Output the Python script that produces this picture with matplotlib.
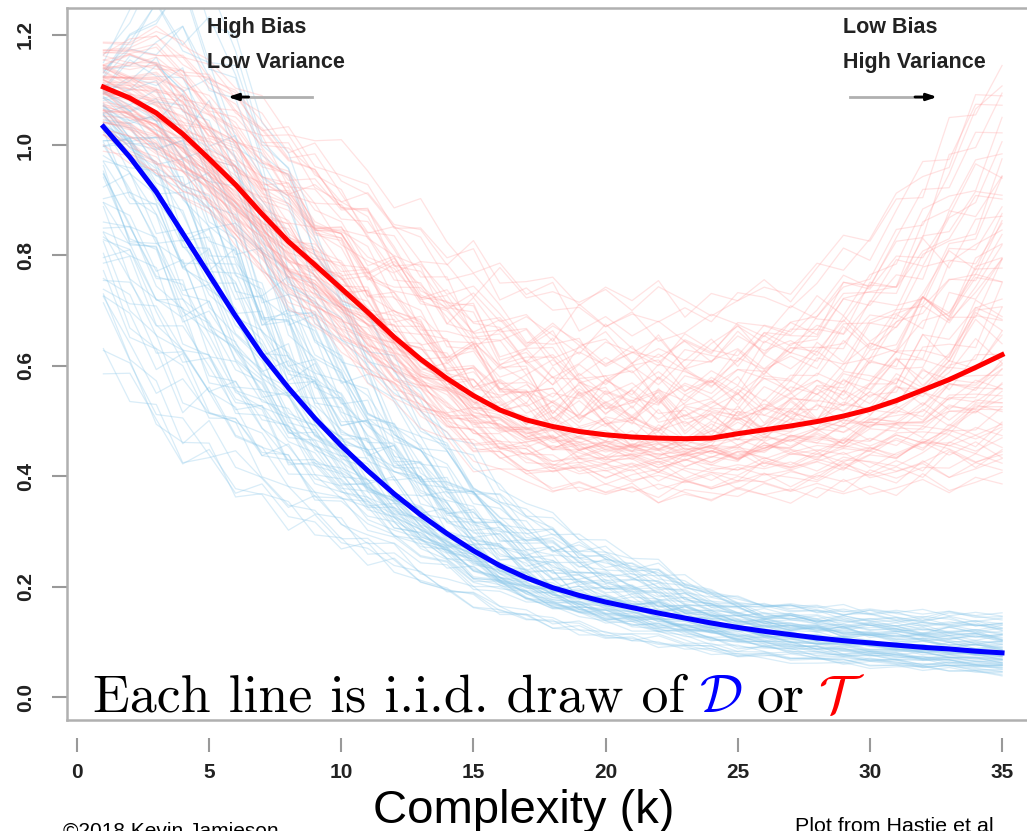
import numpy as np
import matplotlib
matplotlib.use("Agg")
import matplotlib.pyplot as plt

# complexity values (k)
k = list(range(1, 36))

# average curves
blue_mean = [1.033, 0.978, 0.915, 0.840, 0.765, 0.690, 0.620, 0.560, 0.505, 0.455,
             0.410, 0.368, 0.330, 0.296, 0.265, 0.238, 0.216, 0.198, 0.184, 0.172,
             0.162, 0.152, 0.143, 0.134, 0.126, 0.119, 0.113, 0.107, 0.102, 0.098,
             0.094, 0.090, 0.087, 0.083, 0.080]
red_mean = [1.105, 1.085, 1.058, 1.020, 0.975, 0.928, 0.875, 0.825, 0.783, 0.740,
            0.697, 0.652, 0.612, 0.577, 0.546, 0.520, 0.502, 0.490, 0.481, 0.475,
            0.471, 0.469, 0.468, 0.469, 0.477, 0.484, 0.491, 0.499, 0.509, 0.521,
            0.537, 0.556, 0.575, 0.597, 0.620]

# spread of the individual draws (lower / upper edge of the bundle)
blue_lo = [0.61, 0.53, 0.46, 0.40, 0.37, 0.34, 0.31, 0.28, 0.26, 0.24,
           0.22, 0.20, 0.18, 0.16, 0.145, 0.13, 0.12, 0.11, 0.10, 0.09,
           0.085, 0.08, 0.072, 0.066, 0.06, 0.058, 0.056, 0.054, 0.052, 0.05,
           0.048, 0.046, 0.044, 0.042, 0.04]
blue_hi = [1.16, 1.24, 1.32, 1.36, 1.34, 1.27, 1.15, 1.04, 0.94, 0.85,
           0.77, 0.69, 0.62, 0.56, 0.50, 0.45, 0.41, 0.38, 0.35, 0.33,
           0.30, 0.28, 0.25, 0.22, 0.20, 0.19, 0.185, 0.18, 0.175, 0.17,
           0.165, 0.16, 0.16, 0.155, 0.15]
red_lo = [1.00, 0.97, 0.94, 0.90, 0.86, 0.80, 0.74, 0.68, 0.63, 0.58,
          0.53, 0.48, 0.44, 0.40, 0.37, 0.345, 0.33, 0.32, 0.315, 0.315,
          0.315, 0.315, 0.315, 0.318, 0.32, 0.322, 0.325, 0.33, 0.335, 0.34,
          0.345, 0.35, 0.357, 0.364, 0.37]
red_hi = [1.18, 1.20, 1.22, 1.20, 1.17, 1.14, 1.11, 1.08, 1.06, 1.04,
          1.01, 0.98, 0.95, 0.92, 0.90, 0.88, 0.86, 0.84, 0.83, 0.82,
          0.81, 0.80, 0.79, 0.79, 0.79, 0.795, 0.80, 0.82, 0.85, 0.88,
          0.92, 0.97, 1.02, 1.07, 1.12]

# position of each draw inside the bundle at k=1 and k=35 (-1 = lower edge, 1 = upper edge)
blue_start = [-0.95, -0.8, -0.7, -0.6, -0.5, -0.45, -0.4, -0.35, -0.3, -0.25,
              -0.2, -0.15, -0.1, -0.05, 0.0, 0.05, 0.1, 0.15, 0.2, 0.25,
              0.3, 0.35, 0.4, 0.5, 0.6, 0.7, 0.85, 1.0, -0.55, 0.45,
              -0.15, 0.1, -0.3, 0.3, 0.0, -0.65, 0.55, 0.8, -0.85, 0.2]
blue_end = [0.2, -0.6, 0.4, -0.9, 0.1, 0.5, -0.3, 0.7, -0.1, 0.3,
            -0.5, 0.9, 0.0, -0.2, 0.6, -0.7, 0.25, -0.4, 0.8, -0.05,
            0.45, -0.8, 0.15, -0.35, 0.35, -0.15, 0.05, -0.25, 0.55, -0.55,
            1.0, -0.45, 0.65, -0.95, 0.3, 0.1, -0.1, 0.4, -0.65, 0.75]
red_start = [0.9, -0.9, 0.3, -0.3, 0.6, -0.6, 0.0, 0.15, -0.15, 0.45,
             -0.45, 0.75, -0.75, 0.05, -0.05, 0.25, -0.25, 0.5, -0.5, 1.0,
             -1.0, 0.1, -0.1, 0.35, -0.35, 0.65, -0.65, 0.2, -0.2, 0.4,
             -0.4, 0.8, -0.8, 0.55, -0.55, 0.0, 0.3, -0.3, 0.15, -0.15]
red_end = [-0.3, 0.5, -0.6, 0.9, 0.1, 0.3, -0.8, 0.7, -0.2, -0.5,
           0.4, -0.1, 0.2, 1.0, -0.4, 0.6, -0.9, 0.0, 0.25, -0.7,
           0.45, -0.35, 0.8, -0.15, 0.15, -0.55, 0.35, -0.45, 0.55, -0.05,
           0.05, -0.25, 0.65, -0.65, 0.95, -0.75, 0.3, 0.1, -0.3, 0.5]

# small jag pattern that each draw carries (shifted per draw)
wiggle = [0.0, 0.6, -0.3, 0.8, 0.2, -0.7, -0.2, 0.5, -0.9, 0.1,
          0.7, -0.4, 0.3, -0.8, 0.9, -0.1, 0.4, -0.6, 0.0, 0.8,
          -0.5, 0.2, -0.3, 0.6, -0.9, 0.5, 0.1, -0.4, 0.7, -0.2,
          0.3, -0.7, 0.9, -0.1, 0.4]

x_ticks = [0, 5, 10, 15, 20, 25, 30, 35]
y_ticks = [0.0, 0.2, 0.4, 0.6, 0.8, 1.0, 1.2]
y_tick_labels = ["0.0", "0.2", "0.4", "0.6", "0.8", "1.0", "1.2"]

W, H = 1027, 831
plt.rcParams['mathtext.fontset'] = 'cm'
plt.rcParams['font.family'] = ['Liberation Sans', 'DejaVu Sans']

fig = plt.figure(figsize=(W / 100, H / 100), dpi=100)
# axes box in pixels: left 67, right 1060 (beyond the image), top 8, bottom 720
ax = fig.add_axes([67 / W, 1 - 720 / H, (1060 - 67) / W, (720 - 8) / H])
ax.set_xlim((67 - 77) / 26.43, (1060 - 77) / 26.43)
ax.set_ylim((697 - 720) / 552, (697 - 8) / 552)


def draw_bundle(mean, lo, hi, starts, ends, color, alpha):
    kk = np.asarray(k, dtype=float)
    mean, lo, hi = np.asarray(mean), np.asarray(lo), np.asarray(hi)
    t = (kk - kk[0]) / (kk[-1] - kk[0])
    wig = np.asarray(wiggle)
    n = len(starts)
    # every start is paired with two different ends, giving two draws per start
    for rep, shift in enumerate([0, 17]):
        for i, a in enumerate(starts):
            b = ends[(i + shift) % n]
            o = a + (b - a) * t + 0.12 * np.roll(wig, 7 * i + 11 * rep) * (1 if (i + rep) % 2 else -1)
            y = np.where(o > 0, mean + o * (hi - mean), mean + o * (mean - lo))
            ax.plot(kk, y, color=color, lw=0.9, alpha=alpha)


draw_bundle(blue_mean, blue_lo, blue_hi, blue_start, blue_end, '#8cc8ea', 0.33)
draw_bundle(red_mean, red_lo, red_hi, red_start, red_end, '#ff9a9a', 0.28)
ax.plot(k, blue_mean, color='#0000ff', lw=3.6)
ax.plot(k, red_mean, color='#ff0000', lw=3.6)

# R style box and axes
for s in ['left', 'top', 'right']:
    ax.spines[s].set_color('#b0b0b0')
    ax.spines[s].set_linewidth(1.8)
ax.spines['bottom'].set_position(('outward', 13))
ax.spines['bottom'].set_color('none')
ax.plot([0, 1], [0, 0], transform=ax.transAxes, color='#b0b0b0', lw=1.8, clip_on=False)

ax.set_xticks(x_ticks)
ax.set_xticklabels([str(v) for v in x_ticks], fontweight='bold')
ax.set_yticks(y_ticks)
ax.set_yticklabels(y_tick_labels, rotation=90, va='center', fontweight='bold')
ax.tick_params(axis='x', direction='out', length=10, width=1.5, color='#999999',
               pad=8, labelsize=15, labelcolor='#222222')
ax.tick_params(axis='y', direction='out', length=11, width=1.5, color='#999999',
               pad=12, labelsize=15, labelcolor='#222222')

# regime annotations
note = dict(fontsize=15.5, va='center', color='#222222', fontweight='bold')
ax.text(4.92, 1.212, "High Bias", **note)
ax.text(4.92, 1.150, "Low Variance", **note)
ax.text(28.98, 1.212, "Low Bias", **note)
ax.text(28.98, 1.150, "High Variance", **note)
ax.plot([5.9, 8.9], [1.087, 1.087], color='#b0b0b0', lw=2)
ax.annotate('', xy=(5.6, 1.087), xytext=(6.6, 1.087),
            arrowprops=dict(arrowstyle='-|>,head_length=0.6,head_width=0.2', color='black', lw=2))
ax.plot([29.25, 32.3], [1.087, 1.087], color='#b0b0b0', lw=2)
ax.annotate('', xy=(32.65, 1.087), xytext=(31.6, 1.087),
            arrowprops=dict(arrowstyle='-|>,head_length=0.6,head_width=0.2', color='black', lw=2))

# axis title and credits
fig.text(524 / W, 1 - 823 / H, "Complexity (k)", fontsize=34, ha='center', va='baseline')
fig.text(63 / W, 1 - 837 / H, "\u00a92018 Kevin Jamieson", fontsize=15, va='baseline')
fig.text(795 / W, 1 - 832 / H, "Plot from Hastie et al", fontsize=15.4, va='baseline')

# caption with coloured symbols, laid out piece by piece
fig.canvas.draw()
renderer = fig.canvas.get_renderer()
pieces = [("Each line is i.i.d. draw of", 'black'), (r"$\mathcal{D}$", '#0000ff'),
          ("or", 'black'), (r"$\mathcal{T}$", '#ff0000')]
gap = 14
x0 = 93
for txt, col in pieces:
    t = fig.text(x0 / W, 1 - 712 / H, txt, fontsize=38.8, family='cmr10', color=col, va='baseline')
    bb = t.get_window_extent(renderer)
    x0 = x0 + bb.width + gap

fig.savefig("out.png", dpi=100)
